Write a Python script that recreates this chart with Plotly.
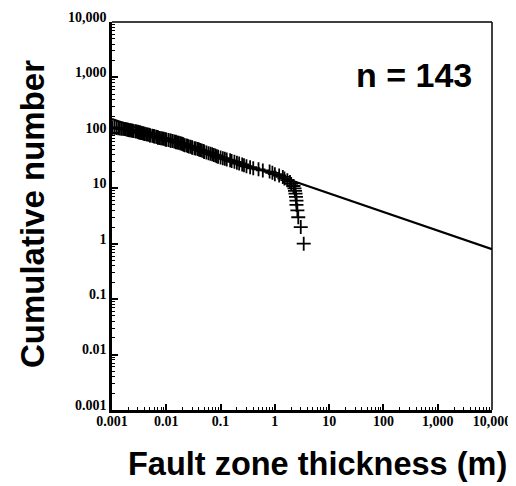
import plotly.graph_objects as go

# Fault zone thickness (m), ordered from largest to smallest; cumulative number = rank
thickness = [3.4, 3.0, 2.7, 2.6, 2.5, 2.5, 2.45, 2.4, 2.35, 2.3,
             2.2, 2.0, 1.9, 1.7, 1.5, 1.4, 1.2, 1.0, 0.9, 0.8,
             0.6, 0.5, 0.4, 0.35, 0.3, 0.27, 0.25, 0.22, 0.2, 0.18,
             0.16, 0.15, 0.13, 0.12, 0.11, 0.1, 0.09, 0.085, 0.08, 0.075,
             0.07, 0.065, 0.06, 0.055, 0.05, 0.05, 0.048, 0.045, 0.042, 0.04,
             0.038, 0.035, 0.033, 0.03, 0.03, 0.028, 0.026, 0.025, 0.024, 0.022,
             0.021, 0.02, 0.02, 0.019, 0.018, 0.017, 0.016, 0.015, 0.015, 0.014,
             0.013, 0.012, 0.012, 0.011, 0.01, 0.01, 0.0095, 0.009, 0.0085, 0.008,
             0.0075, 0.007, 0.007, 0.0068, 0.0065, 0.006, 0.006, 0.0058, 0.0055, 0.005,
             0.005, 0.0048, 0.0045, 0.0043, 0.004, 0.004, 0.0038, 0.0037, 0.0035, 0.0034,
             0.0033, 0.0032, 0.0031, 0.003, 0.003, 0.0028, 0.0027, 0.0025, 0.0024, 0.0023,
             0.0022, 0.0021, 0.002, 0.002, 0.0019, 0.0018, 0.0017, 0.0016, 0.0015, 0.0014,
             0.0013, 0.0012, 0.0011, 0.001, 0.001]
cumulative = list(range(1, len(thickness) + 1))

# Power-law fit line endpoints
fit_x = [0.001, 10000]
fit_y = [177, 0.8]

tick_vals = [0.001, 0.01, 0.1, 1, 10, 100, 1000, 10000]
tick_text = ["0.001", "0.01", "0.1", "1", "10", "100", "1,000", "10,000"]

fig = go.Figure()
fig.add_trace(go.Scatter(
    x=fit_x, y=fit_y, mode="lines",
    line=dict(color="black", width=2.2), showlegend=False))
fig.add_trace(go.Scatter(
    x=thickness, y=cumulative, mode="markers",
    marker=dict(symbol="cross-thin", size=10, color="black",
                line=dict(color="black", width=1.8)),
    showlegend=False))

tickfont = dict(family="Liberation Serif", size=14, color="black", weight="bold")
common = dict(type="log", range=[-3, 4], tickvals=tick_vals, ticktext=tick_text,
              ticks="inside", ticklen=6, tickwidth=1.5, tickcolor="black",
              showline=True, linecolor="black", linewidth=2.5,
              showgrid=False, zeroline=False, tickfont=tickfont, automargin=False,
              minor=dict(ticks="inside", ticklen=3, tickcolor="black",
                         tickwidth=1, dtick="D1", showgrid=False))

fig.update_xaxes(**common, ticklabelstandoff=-4)
fig.update_yaxes(**common, ticklabelshift=-5, ticklabelstandoff=0)

# thin top / right frame
fig.add_shape(type="line", xref="paper", yref="paper", x0=0, x1=1, y0=1, y1=1,
              line=dict(color="black", width=1.5))
fig.add_shape(type="line", xref="paper", yref="paper", x0=1, x1=1, y0=0, y1=1,
              line=dict(color="black", width=1.5))

fig.add_annotation(text="n = 143", xref="paper", yref="paper", x=0.795, y=0.863,
                   showarrow=False, xanchor="center", yanchor="middle",
                   font=dict(family="Liberation Sans", size=34, color="black", weight="bold"))
fig.add_annotation(text="Fault zone thickness (m)", xref="paper", yref="paper",
                   x=0.541, y=-0.139, showarrow=False, xanchor="center", yanchor="middle",
                   font=dict(family="Liberation Sans", size=32.5, color="black", weight="bold"))
fig.add_annotation(text="Cumulative number", xref="paper", yref="paper",
                   x=-0.2105, y=0.505, showarrow=False, textangle=-90,
                   xanchor="center", yanchor="middle",
                   font=dict(family="Liberation Sans", size=33, color="black", weight="bold"))

# page body has an 8px margin: size the figure so the plot area lands where the reference has it
fig.update_layout(width=508, height=478, margin=dict(l=104, r=24, t=14, b=76),
                  plot_bgcolor="white", paper_bgcolor="white")
fig.write_html("out.html")
